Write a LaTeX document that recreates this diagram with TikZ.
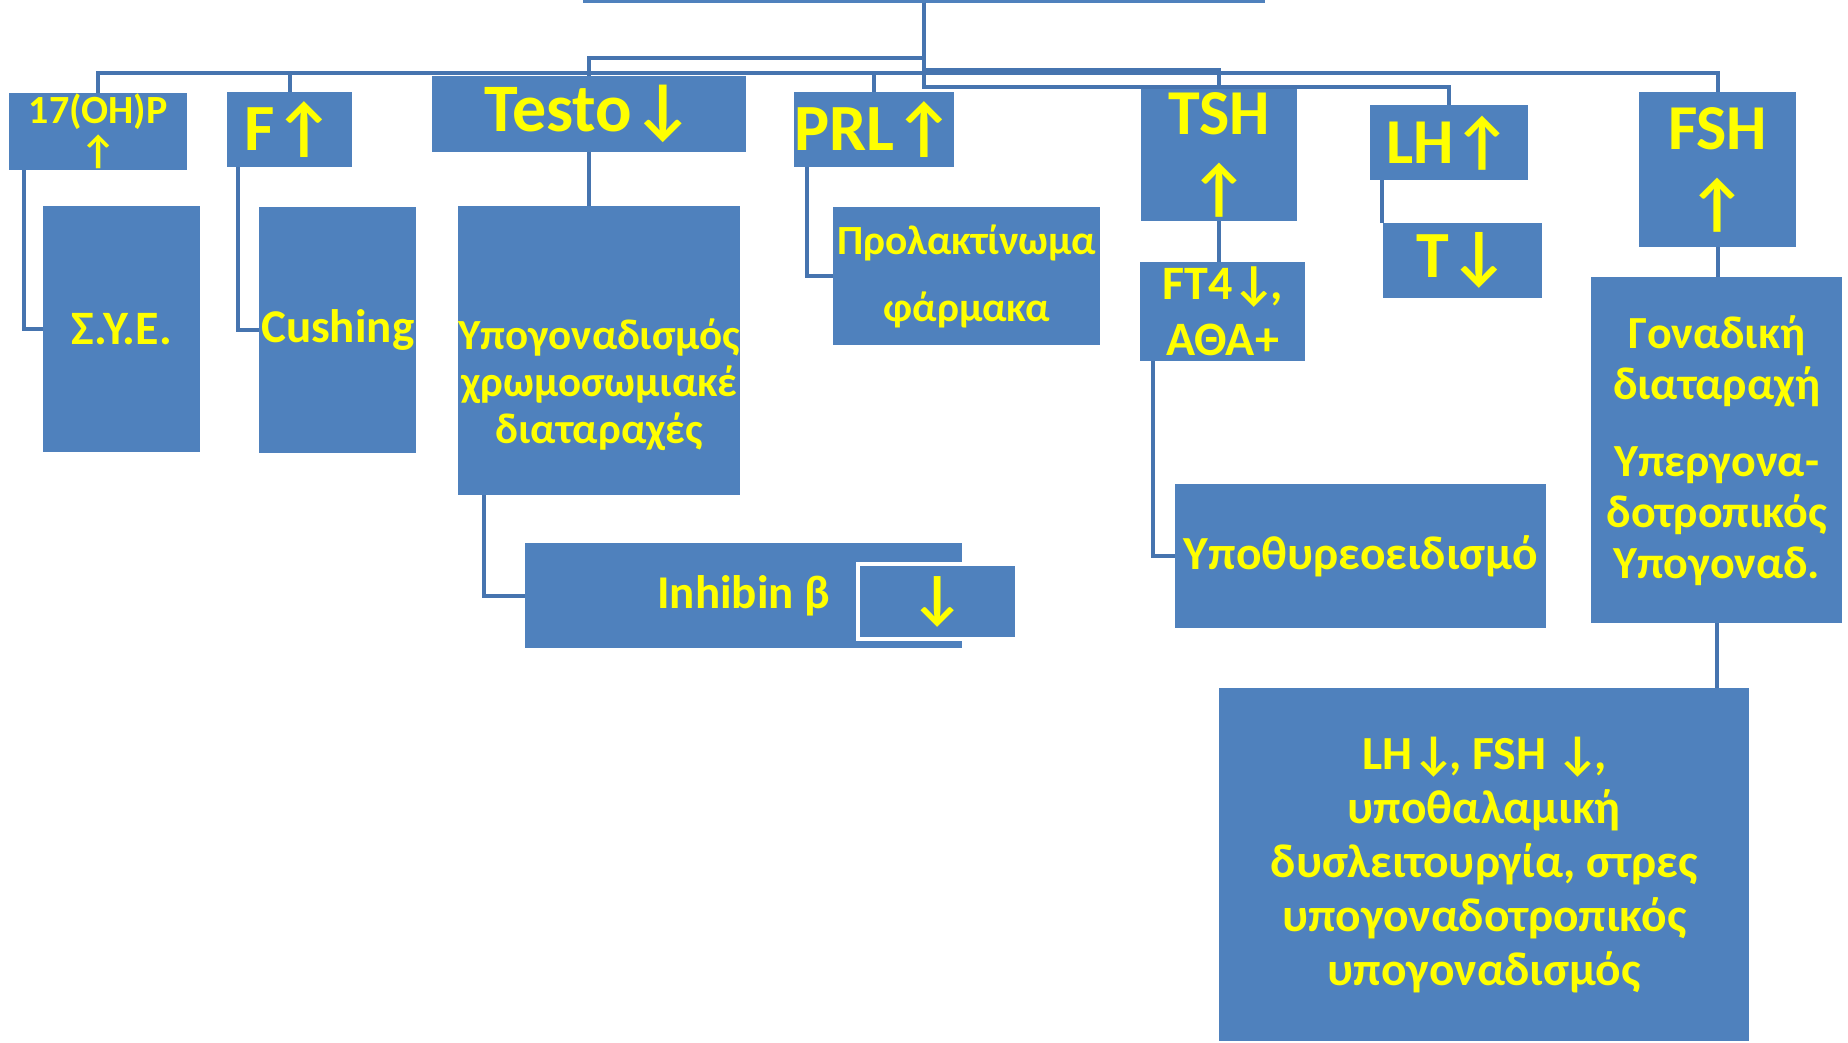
\documentclass[tikz,border=0pt]{standalone}
\usepackage{fontspec}
\setmainfont{Carlito}
\usepackage{tikz}
\usetikzlibrary{calc,positioning}
\definecolor{boxblue}{RGB}{79,129,189}
\definecolor{linkblue}{RGB}{70,116,175}
\definecolor{txtyellow}{RGB}{255,255,0}
\tikzstyle{conn} = [draw=linkblue, line width=4pt]
\tikzstyle{blk} = [rectangle, fill=boxblue, text=txtyellow, anchor=north west, inner sep=0pt, align=center]
\newcommand{\up}{↑}
\newcommand{\dn}{↓}
\newcommand{\fsz}[2]{\fontsize{#1}{#2}\selectfont\bfseries}

\begin{document}
\begin{tikzpicture}[x=1pt, y=-1pt]

\clip (0,0) rectangle (1848,1043);

\node (root) [blk, anchor=south west, minimum width=682pt, minimum height=60pt] at (583,3) {};

\node (oh17) [blk, minimum width=178pt, minimum height=77pt, font=\fsz{40}{41}] at (9,93) {17(OH)P\\\up};
\node (fup) [blk, minimum width=125pt, minimum height=75pt, font=\fsz{66}{70}] at (227,92) {F\up};
\node (testo) [blk, minimum width=314pt, minimum height=76pt, font=\fsz{68}{70}] at (432,76) {Testo\dn};
\node (prl) [blk, minimum width=156pt, minimum height=75pt, font=\fsz{66}{70}] at (794,92) {PRL\up};
\node (tsh) [blk, minimum width=156pt, minimum height=133pt, font=\fsz{64}{76}] at (1141,88) {TSH\\\up};
\node (lh) [blk, minimum width=158pt, minimum height=75pt, font=\fsz{64}{70}] at (1370,105) {LH\up};
\node (fsh) [blk, minimum width=157pt, minimum height=155pt, font=\fsz{64}{76}] at (1639,92) {FSH\\\up};

\node (sye) [blk, minimum width=157pt, minimum height=246pt, font=\fsz{48}{50}] at (43,206) {Σ.Υ.Ε.};
\node (cush) [blk, minimum width=157pt, minimum height=246pt, font=\fsz{47}{50}] at (259,207) {Cushing};
\node (hypog) [blk, minimum width=281pt, minimum height=289pt, font=\fsz{43}{47}] at (458,206) {\mbox{}\\[52pt]Υπογοναδισμός\\χρωμοσωμιακέ\\διαταραχές};
\node (prolakt) [blk, minimum width=267pt, minimum height=138pt, font=\fsz{41.5}{67}] at (833,207) {Προλακτίνωμα\\φάρμακα};
\node (ft4) [blk, minimum width=165pt, minimum height=99pt, font=\fsz{48}{56}] at (1140,262) {FT4\dn\kern-.12em,\\ΑΘΑ+};
\node (tdn) [blk, minimum width=159pt, minimum height=75pt, font=\fsz{66}{70}] at (1383,223) {T\dn};
\node (gonad) [blk, minimum width=251pt, minimum height=346pt, font=\fsz{46}{51}] at (1591,277) {Γοναδική\\διαταραχή\\[26pt]Υπεργονα-\\δοτροπικός\\Υπογοναδ.};
\node (hypoth) [blk, minimum width=371pt, minimum height=144pt, font=\fsz{47.5}{50}] at (1175,484) {Υποθυρεοειδισμό};
\node (inhib) [blk, minimum width=437pt, minimum height=105pt, font=\fsz{47}{50}] at (525,543) {Inhibin β};
\node (inhdn) [blk, draw=white, line width=4pt, minimum width=159pt, minimum height=75pt, font=\fsz{60}{64}] at (856,562) {\dn};
\node (lhfsh) [blk, minimum width=530pt, minimum height=353pt, font=\fsz{47.5}{54}] at (1219,688) {LH\dn\kern-.12em, FSH \dn\kern-.12em,\\υποθαλαμική\\δυσλειτουργία, στρες\\υπογοναδοτροπικός\\υπογοναδισμός};

% bus levels under the top box
\coordinate (busA) at (0,58);
\coordinate (busT) at (0,70);
\coordinate (busB) at (0,73);
\coordinate (busC) at (0,87);

\path [conn] (root.south) |- (testo.north |- busA) -- (testo.north);
\path [conn] (root.south) |- (oh17.north |- busB) -- (oh17.north);
\path [conn] (root.south) |- (fup.north |- busB) -- (fup.north);
\path [conn] (root.south) |- (prl.north |- busB) -- (prl.north);
\path [conn] (root.south) |- (tsh.north |- busT) -- (tsh.north);
\path [conn] (root.south) |- (fsh.north |- busB) -- (fsh.north);
\path [conn] (root.south) |- (lh.north |- busC) -- (lh.north);

\path [conn] ([xshift=15pt]oh17.south west) |- (sye.west);
\path [conn] ([xshift=11pt]fup.south west) |- (cush.west);
\path [conn] (testo.south) -- (testo.south |- hypog.north);
\path [conn] ([xshift=13pt]prl.south west) |- (prolakt.west);
\path [conn] (tsh.south) -- (tsh.south |- ft4.north);
\path [conn] ([xshift=13pt]ft4.south west) |- (hypoth.west);
\path [conn] ([xshift=12pt]lh.south west) -- ([xshift=-1pt]tdn.north west);
\path [conn] (fsh.south) -- (fsh.south |- gonad.north);
\path [conn] ([xshift=26pt]hypog.south west) |- (inhib.west);
\path [conn] (gonad.south) -- (gonad.south |- lhfsh.north);

\end{tikzpicture}
\end{document}
